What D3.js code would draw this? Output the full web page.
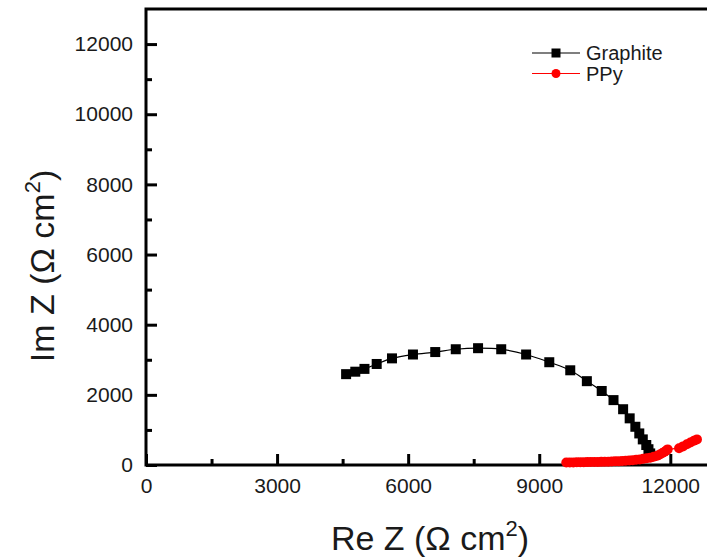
<!DOCTYPE html>
<html>
<head>
<meta charset="utf-8">
<script src="https://cdn.jsdelivr.net/npm/d3@7"></script>
<style>
  body { margin: 0; background: #fff; }
  text { font-family: "Liberation Sans", Arial, sans-serif; fill: #1a1a1a; }
</style>
</head>
<body>
<div id="chart"></div>
<script>
// Nyquist data (Re Z, Im Z in ohm cm2)
const graphiteRe = [4580, 4790, 5000, 5280, 5630, 6110, 6620, 7090, 7600, 8130, 8700, 9230, 9710,
  10090, 10430, 10700, 10920, 11070, 11200, 11290, 11370, 11450, 11500, 11540, 11580];
const graphiteIm = [2590, 2660, 2740, 2880, 3040, 3150, 3220, 3300, 3330, 3300, 3150, 2930, 2700,
  2390, 2110, 1850, 1590, 1330, 1090, 900, 730, 570, 450, 330, 260];

const ppyRe = [9620, 9700, 9780, 9860, 9940, 10020, 10100, 10180, 10260, 10340, 10420, 10500, 10580,
  10660, 10740, 10820, 10900, 10980, 11060, 11140, 11220, 11300, 11380, 11460, 11540, 11620, 11700,
  11760, 11820, 11870, 11910, 11940, 12200, 12290, 12380, 12460, 12540, 12610];
const ppyIm = [70, 72, 74, 76, 78, 80, 82, 84, 86, 88, 90, 93, 96,
  100, 105, 110, 116, 122, 130, 138, 148, 160, 175, 190, 210, 235, 265,
  300, 340, 380, 415, 445, 480, 530, 590, 640, 690, 730];

const xMajor = [0, 3000, 6000, 9000, 12000];
const xMinor = [1500, 4500, 7500, 10500];
const yMajor = [0, 2000, 4000, 6000, 8000, 10000, 12000];
const yMinor = [1000, 3000, 5000, 7000, 9000, 11000];

const seriesNames = ["Graphite", "PPy"];
const seriesColors = ["#000000", "#ff0000"];

const width = 707, height = 560;
const margin = { left: 146, top: 9, right: 714, bottom: 465 };

const svg = d3.select("#chart").append("svg")
  .attr("width", width).attr("height", height);

const x = d3.scaleLinear().domain([0, 13000]).range([margin.left, margin.right]);
const y = d3.scaleLinear().domain([0, 13000]).range([margin.bottom, margin.top]);

// minor ticks
svg.append("g").attr("transform", `translate(0,${margin.bottom})`)
  .call(d3.axisBottom(x).tickValues(xMinor).tickSize(-6).tickFormat(""))
  .call(g => g.select(".domain").remove());
svg.append("g").attr("transform", `translate(${margin.left},0)`)
  .call(d3.axisLeft(y).tickValues(yMinor).tickSize(-6).tickFormat(""))
  .call(g => g.select(".domain").remove());

// major ticks + labels
const xAxis = svg.append("g").attr("transform", `translate(0,${margin.bottom})`)
  .call(d3.axisBottom(x).tickValues(xMajor).tickSize(-11).tickPadding(13).tickFormat(d3.format("d")));
xAxis.select(".domain").remove();
xAxis.selectAll("text").style("font-size", "21px").attr("fill", "#1a1a1a");

const yAxis = svg.append("g").attr("transform", `translate(${margin.left},0)`)
  .call(d3.axisLeft(y).tickValues(yMajor).tickSize(-11).tickPadding(13).tickFormat(d3.format("d")));
yAxis.select(".domain").remove();
yAxis.selectAll("text").style("font-size", "21px").attr("fill", "#1a1a1a");

svg.selectAll(".tick line").attr("stroke", "#000").attr("stroke-width", 3);

// frame
svg.append("rect")
  .attr("x", margin.left).attr("y", margin.top)
  .attr("width", margin.right - margin.left)
  .attr("height", margin.bottom - margin.top)
  .attr("fill", "none").attr("stroke", "#000").attr("stroke-width", 3);

// series
const graphite = graphiteRe.map((d, i) => ({ re: d, im: graphiteIm[i] }));
const ppy = ppyRe.map((d, i) => ({ re: d, im: ppyIm[i] }));

svg.append("path").datum(ppy)
  .attr("d", d3.line().x(d => x(d.re)).y(d => y(d.im)))
  .attr("fill", "none").attr("stroke", seriesColors[1]).attr("stroke-width", 1.2);
svg.append("path").datum(graphite)
  .attr("d", d3.line().x(d => x(d.re)).y(d => y(d.im)).curve(d3.curveCatmullRom))
  .attr("fill", "none").attr("stroke", seriesColors[0]).attr("stroke-width", 1.2);

const sq = 10;
svg.append("g").selectAll("rect").data(graphite).join("rect")
  .attr("x", d => x(d.re) - sq / 2).attr("y", d => y(d.im) - sq / 2)
  .attr("width", sq).attr("height", sq).attr("fill", seriesColors[0]);

svg.append("g").selectAll("circle").data(ppy).join("circle")
  .attr("cx", d => x(d.re)).attr("cy", d => y(d.im))
  .attr("r", 5).attr("fill", seriesColors[1]);

// legend
const legend = svg.append("g").selectAll("g").data(seriesNames).join("g")
  .attr("transform", (d, i) => `translate(532,${53 + i * 20.5})`);
legend.append("line").attr("x1", 0).attr("x2", 48).attr("y1", 0).attr("y2", 0)
  .attr("stroke", (d, i) => seriesColors[i]).attr("stroke-width", 1.2);
legend.filter((d, i) => i === 0).append("rect")
  .attr("x", 24 - 4.5).attr("y", -4.5).attr("width", 9).attr("height", 9).attr("fill", seriesColors[0]);
legend.filter((d, i) => i === 1).append("circle")
  .attr("cx", 24).attr("cy", 0).attr("r", 4.5).attr("fill", seriesColors[1]);
legend.append("text").attr("x", 54).attr("dy", "0.36em")
  .style("font-size", "20px").text(d => d);

// axis titles
const xt = svg.append("text").attr("x", 430).attr("y", 550)
  .attr("text-anchor", "middle").style("font-size", "34px");
xt.append("tspan").text("Re Z (Ω cm");
xt.append("tspan").attr("dy", -14).style("font-size", "22px").text("2");
xt.append("tspan").attr("dy", 14).text(")");

const yt = svg.append("text")
  .attr("transform", "translate(54,266) rotate(-90)")
  .attr("text-anchor", "middle").style("font-size", "34px");
yt.append("tspan").text("Im Z (Ω cm");
yt.append("tspan").attr("dy", -14).style("font-size", "22px").text("2");
yt.append("tspan").attr("dy", 14).text(")");
</script>
</body>
</html>
